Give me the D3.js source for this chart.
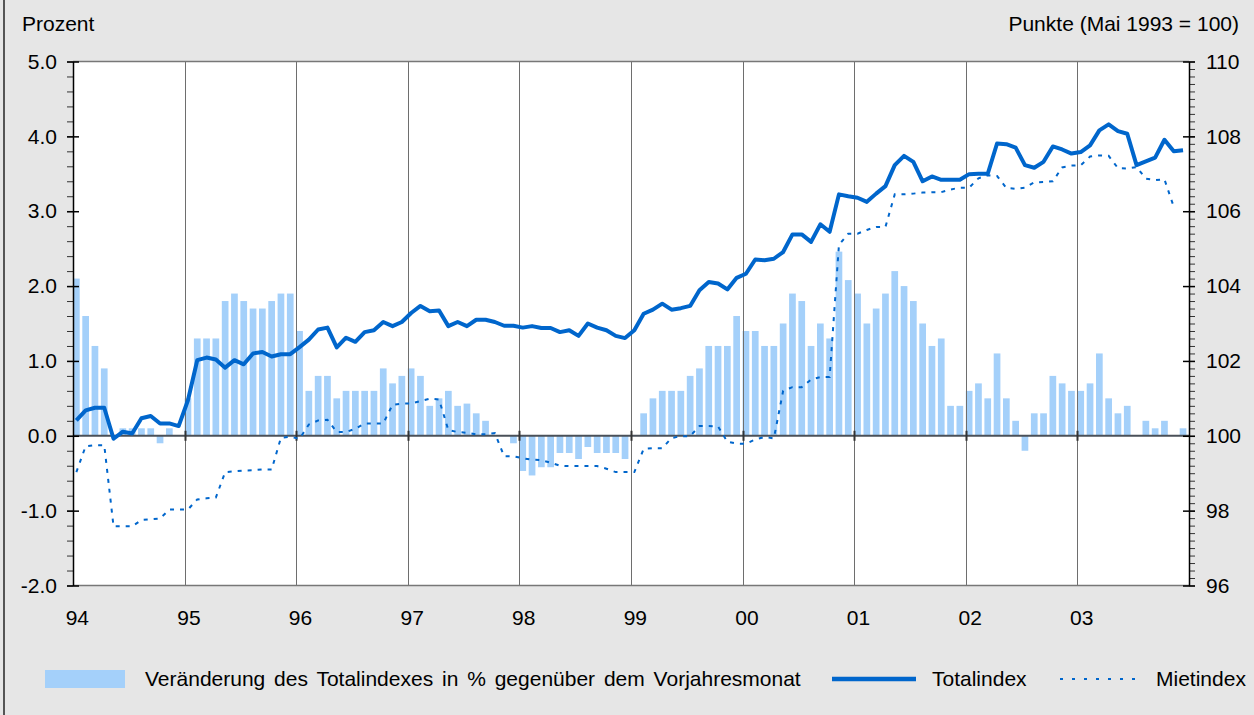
<!DOCTYPE html>
<html>
<head>
<meta charset="utf-8">
<script src="https://cdn.jsdelivr.net/npm/d3@7"></script>
<style>
  body { margin: 0; background: #e6e6e6; }
  svg text { font-family: "Liberation Sans", Arial, sans-serif; font-size: 21px; fill: #000; }
</style>
</head>
<body>
<svg id="chart"></svg>
<script>
// Year labels on the x axis (one per 12 months)
const years = ["94", "95", "96", "97", "98", "99", "00", "01", "02", "03"];

// Veränderung des Totalindexes in % gegenüber dem Vorjahresmonat (left axis, monthly 1994-2003)
const veraenderung = [
  2.1, 1.6, 1.2, 0.9, 0.0, 0.1, 0.1, 0.1, 0.1, -0.1, 0.1, 0.0,
  0.5, 1.3, 1.3, 1.3, 1.8, 1.9, 1.8, 1.7, 1.7, 1.8, 1.9, 1.9,
  1.4, 0.6, 0.8, 0.8, 0.5, 0.6, 0.6, 0.6, 0.6, 0.9, 0.7, 0.8,
  0.9, 0.8, 0.4, 0.5, 0.6, 0.4, 0.43, 0.3, 0.2, 0.0, 0.0, -0.1,
  -0.47, -0.53, -0.42, -0.42, -0.23, -0.23, -0.31, -0.15, -0.23, -0.23, -0.23, -0.31,
  0.0, 0.3, 0.5, 0.6, 0.6, 0.6, 0.8, 0.9, 1.2, 1.2, 1.2, 1.6,
  1.4, 1.4, 1.2, 1.2, 1.5, 1.9, 1.8, 1.2, 1.5, 1.3, 2.46, 2.08,
  1.9, 1.5, 1.7, 1.9, 2.2, 2.0, 1.8, 1.5, 1.2, 1.3, 0.4, 0.4,
  0.6, 0.7, 0.5, 1.1, 0.5, 0.2, -0.2, 0.3, 0.3, 0.8, 0.7, 0.6,
  0.6, 0.7, 1.1, 0.5, 0.3, 0.4, 0.0, 0.2, 0.1, 0.2, 0.0, 0.1
];

// Totalindex, Punkte (Mai 1993 = 100), right axis
const totalindex = [
  100.41, 100.68, 100.75, 100.75, 99.92, 100.11, 100.06, 100.47, 100.53, 100.33, 100.33, 100.26,
  100.95, 102.02, 102.09, 102.04, 101.82, 102.02, 101.91, 102.2, 102.24, 102.12, 102.18, 102.18,
  102.37, 102.57, 102.84, 102.89, 102.36, 102.62, 102.51, 102.77, 102.82, 103.04, 102.93, 103.04,
  103.28, 103.47, 103.33, 103.35, 102.93, 103.04, 102.93, 103.1, 103.1, 103.04, 102.94, 102.94,
  102.89, 102.93, 102.88, 102.88, 102.77, 102.82, 102.67, 103.0, 102.89, 102.82, 102.67, 102.61,
  102.82, 103.26, 103.37, 103.53, 103.37, 103.41, 103.47, 103.89, 104.11, 104.07, 103.91, 104.22,
  104.33, 104.71, 104.69, 104.73, 104.91, 105.38, 105.38, 105.18, 105.65, 105.45, 106.45, 106.4,
  106.36, 106.25, 106.47, 106.67, 107.23, 107.48, 107.32, 106.8, 106.93, 106.84, 106.84, 106.84,
  106.99, 107.0, 107.0, 107.81, 107.79, 107.7, 107.23, 107.16, 107.32, 107.73, 107.65, 107.54,
  107.58, 107.76, 108.16, 108.32, 108.14, 108.07, 107.23, 107.33, 107.43, 107.91, 107.6, 107.63
];

// Mietindex, right axis (no value for the last month)
const mietindex = [
  99.03, 99.72, 99.75, 99.75, 97.58, 97.58, 97.58, 97.75, 97.77, 97.79, 98.03, 98.03,
  98.03, 98.3, 98.33, 98.35, 99.03, 99.05, 99.07, 99.08, 99.1, 99.1, 99.95, 99.97,
  99.92, 100.3, 100.41, 100.43, 100.1, 100.1, 100.19, 100.33, 100.33, 100.33, 100.83, 100.86,
  100.86, 100.93, 100.99, 100.97, 100.15, 100.1, 100.08, 100.04, 100.04, 100.07, 99.45, 99.45,
  99.4, 99.36, 99.35, 99.28, 99.2, 99.19, 99.19, 99.19, 99.19, 99.12, 99.03, 99.03,
  99.03, 99.65, 99.67, 99.67, 99.94, 99.99, 99.99, 100.26, 100.26, 100.25, 99.84, 99.79,
  99.79, 99.9, 99.97, 99.93, 101.2, 101.3, 101.3, 101.5, 101.57, 101.57, 105.1, 105.4,
  105.4, 105.5, 105.58, 105.58, 106.45, 106.45, 106.47, 106.5, 106.51, 106.51, 106.58, 106.63,
  106.63, 106.88, 106.96, 106.94, 106.62, 106.6, 106.63, 106.77, 106.78, 106.8, 107.17, 107.22,
  107.23, 107.46, 107.49, 107.48, 107.15, 107.14, 107.18, 106.87, 106.83, 106.85, 106.12, null
];

const width = 1254, height = 715;
const plot = { left: 73, right: 1189, top: 61.5, bottom: 585.5 };
const barColor = "#a4d0fa";
const lineColor = "#0066cc";

const svg = d3.select("#chart")
    .attr("width", width)
    .attr("height", height);

// background and left frame edge
svg.append("rect").attr("width", width).attr("height", height).attr("fill", "#e6e6e6");
svg.append("line")
    .attr("x1", 4).attr("x2", 4).attr("y1", 0).attr("y2", height)
    .attr("stroke", "#555").attr("stroke-width", 2);

// Scales
const months = d3.range(veraenderung.length);
const x = d3.scaleBand()
    .domain(months)
    .range([plot.left, plot.right])
    .paddingInner(0.28)
    .paddingOuter(0.14)
    .align(0);
const cx = i => x(i) + x.bandwidth() / 2;

const yL = d3.scaleLinear().domain([-2, 5]).range([plot.bottom, plot.top]);
const yR = d3.scaleLinear().domain([96, 110]).range([plot.bottom, plot.top]);

// plot area
svg.append("rect")
    .attr("x", plot.left).attr("y", plot.top)
    .attr("width", plot.right - plot.left).attr("height", plot.bottom - plot.top)
    .attr("fill", "#fff");

// Bars
svg.append("g").selectAll("rect")
    .data(veraenderung)
    .join("rect")
    .attr("x", (d, i) => x(i))
    .attr("width", x.bandwidth())
    .attr("y", d => Math.min(yL(d), yL(0)))
    .attr("height", d => Math.abs(yL(d) - yL(0)))
    .attr("fill", barColor);

// Year gridlines
const yearStarts = years.map((y, k) => k * 12).filter(i => i > 0);
svg.append("g").selectAll("line")
    .data(yearStarts)
    .join("line")
    .attr("x1", i => Math.round(x(i)) + 0.5).attr("x2", i => Math.round(x(i)) + 0.5)
    .attr("y1", plot.top).attr("y2", plot.bottom)
    .attr("stroke", "#6e6e6e").attr("stroke-width", 1);

// top and bottom frame
svg.append("line")
    .attr("x1", plot.left).attr("x2", plot.right).attr("y1", plot.top).attr("y2", plot.top)
    .attr("stroke", "#777").attr("stroke-width", 1.5);
svg.append("line")
    .attr("x1", plot.left).attr("x2", plot.right).attr("y1", plot.bottom).attr("y2", plot.bottom)
    .attr("stroke", "#777").attr("stroke-width", 1.5);

// zero line with year ticks
svg.append("line")
    .attr("x1", plot.left).attr("x2", plot.right).attr("y1", yL(0)).attr("y2", yL(0))
    .attr("stroke", "#4a5058").attr("stroke-width", 2);
svg.append("g").selectAll("line")
    .data(yearStarts)
    .join("line")
    .attr("x1", i => Math.round(x(i)) + 0.5).attr("x2", i => Math.round(x(i)) + 0.5)
    .attr("y1", yL(0) - 5).attr("y2", yL(0) + 5)
    .attr("stroke", "#333").attr("stroke-width", 2);

// Mietindex (dashed)
const mietLine = d3.line()
    .defined(d => d != null)
    .x((d, i) => cx(i))
    .y(d => yR(d));
svg.append("path")
    .datum(mietindex)
    .attr("d", mietLine)
    .attr("fill", "none")
    .attr("stroke", lineColor)
    .attr("stroke-width", 2)
    .attr("stroke-dasharray", "4,6");

// Totalindex
const totalLine = d3.line()
    .x((d, i) => cx(i))
    .y(d => yR(d));
svg.append("path")
    .datum(totalindex)
    .attr("d", totalLine)
    .attr("fill", "none")
    .attr("stroke", lineColor)
    .attr("stroke-width", 4)
    .attr("stroke-linejoin", "round");

// Left axis: minor ticks, major ticks and labels
const leftMinor = d3.axisLeft(yL).tickValues(d3.range(-2, 5.001, 0.2)).tickSize(6).tickFormat("");
const gLm = svg.append("g").attr("transform", `translate(${plot.left},0)`).call(leftMinor);
gLm.select(".domain").remove();
gLm.selectAll("line").attr("stroke", "#333");

const leftAxis = d3.axisLeft(yL)
    .tickValues(d3.range(-2, 5.001, 1))
    .tickFormat(d => d.toFixed(1))
    .tickSizeInner(-6).tickSizeOuter(0).tickPadding(16);
const gL = svg.append("g").attr("transform", `translate(${plot.left},0)`).call(leftAxis);
gL.selectAll(".tick line").attr("x1", -6).attr("x2", 6).attr("stroke", "#000").attr("stroke-width", 1.5);
gL.select(".domain").attr("stroke", "#000").attr("stroke-width", 1.5);
gL.selectAll("text").attr("font-size", null).attr("font-family", null);

// Right axis
const rightMinor = d3.axisRight(yR).tickValues(d3.range(96, 110.001, 0.2)).tickSize(6).tickFormat("");
const gRm = svg.append("g").attr("transform", `translate(${plot.right},0)`).call(rightMinor);
gRm.select(".domain").remove();
gRm.selectAll("line").attr("stroke", "#333");

const rightAxis = d3.axisRight(yR)
    .tickValues(d3.range(96, 110.001, 2))
    .tickFormat(d3.format("d"))
    .tickSizeInner(-6).tickSizeOuter(0).tickPadding(17);
const gR = svg.append("g").attr("transform", `translate(${plot.right},0)`).call(rightAxis);
gR.selectAll(".tick line").attr("x1", -6).attr("x2", 6).attr("stroke", "#000").attr("stroke-width", 1.5);
gR.select(".domain").attr("stroke", "#000").attr("stroke-width", 1.5);
gR.selectAll("text").attr("font-size", null).attr("font-family", null);

// X labels
svg.append("g").selectAll("text")
    .data(years)
    .join("text")
    .attr("x", (d, k) => cx(k * 12) + 1)
    .attr("y", 625)
    .attr("text-anchor", "middle")
    .text(d => d);

// Axis titles
svg.append("text").attr("x", 22).attr("y", 31).text("Prozent");
svg.append("text").attr("x", 1239).attr("y", 31).attr("text-anchor", "end").text("Punkte (Mai 1993 = 100)");

// Legend
const legY = 679;
svg.append("rect").attr("x", 45).attr("y", legY - 9).attr("width", 80).attr("height", 18).attr("fill", barColor);
svg.append("text").attr("x", 145).attr("y", legY + 7)
    .attr("word-spacing", "3px")
    .text("Veränderung des Totalindexes in % gegenüber dem Vorjahresmonat");
svg.append("line").attr("x1", 832).attr("x2", 916).attr("y1", legY).attr("y2", legY)
    .attr("stroke", lineColor).attr("stroke-width", 4.5);
svg.append("text").attr("x", 932).attr("y", legY + 7).text("Totalindex");
svg.append("line").attr("x1", 1060).attr("x2", 1136).attr("y1", legY).attr("y2", legY)
    .attr("stroke", lineColor).attr("stroke-width", 2).attr("stroke-dasharray", "3,9");
svg.append("text").attr("x", 1156).attr("y", legY + 7).text("Mietindex");
</script>
</body>
</html>
